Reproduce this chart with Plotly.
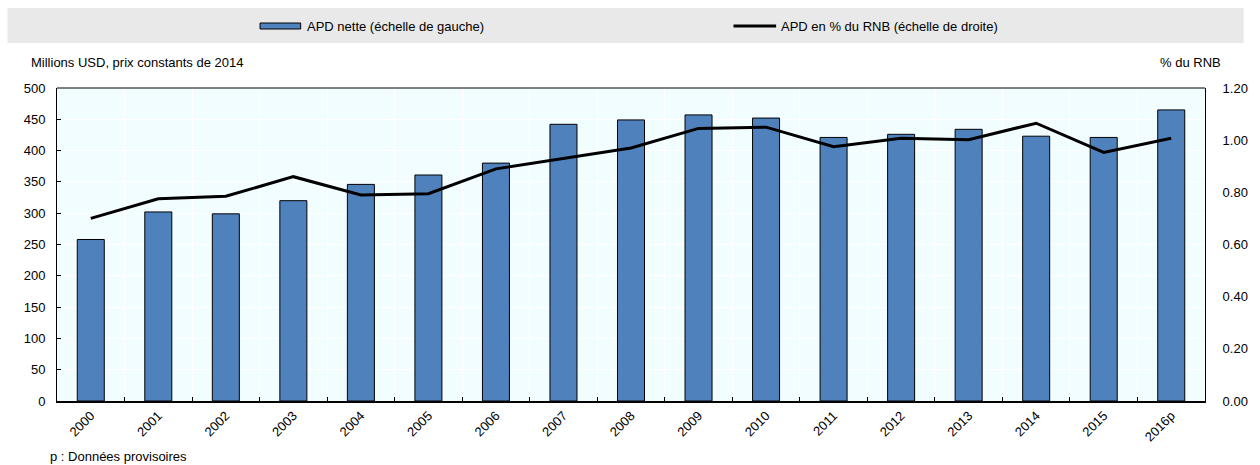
import plotly.graph_objects as go

years = ["2000", "2001", "2002", "2003", "2004", "2005", "2006", "2007", "2008",
         "2009", "2010", "2011", "2012", "2013", "2014", "2015", "2016p"]
apd_nette = [258, 302, 299, 320, 346, 361, 380, 442, 449, 457, 452, 421, 426, 434, 423, 421, 465]
apd_pct_rnb = [0.70, 0.775, 0.785, 0.86, 0.79, 0.795, 0.89, 0.93, 0.97, 1.045, 1.05, 0.975, 1.007, 1.002, 1.065, 0.953, 1.007]

W, H = 1260, 465
L, R, T, B = 57, 1216, 88, 401
FONT = "Liberation Sans Narrow, Arial Narrow, Liberation Sans, Arial, sans-serif"

def px(x):
    return (x - L) / (R - L)

def py(y):
    return (B - y) / (B - T)

fig = go.Figure()
fig.add_trace(go.Bar(
    x=years, y=apd_nette, name="APD nette (échelle de gauche)",
    marker=dict(color="#4F81BD", line=dict(color="black", width=1)),
    width=0.4, yaxis="y", showlegend=False,
))
fig.add_trace(go.Scatter(
    x=years, y=apd_pct_rnb, name="APD en % du RNB (échelle de droite)",
    mode="lines", line=dict(color="black", width=3), yaxis="y2", showlegend=False,
))

shapes = [
    # legend band
    dict(type="rect", xref="paper", yref="paper", x0=px(7), x1=px(1255), y0=py(43), y1=py(8),
         fillcolor="#E9E9E9", line=dict(width=0), layer="below"),
    # bar swatch
    dict(type="rect", xref="paper", yref="paper", x0=px(262), x1=px(303), y0=py(29), y1=py(23),
         fillcolor="#4F81BD", line=dict(color="black", width=1)),
    # line swatch
    dict(type="line", xref="paper", yref="paper", x0=px(740), x1=px(783), y0=py(26), y1=py(26),
         line=dict(color="black", width=3)),
]

annotations = [
    dict(text="APD nette (échelle de gauche)", x=px(307), y=py(26), xref="paper", yref="paper",
         xanchor="left", yanchor="middle", showarrow=False, font=dict(size=13, family=FONT, color="black")),
    dict(text="APD en % du RNB (échelle de droite)", x=px(786), y=py(26), xref="paper", yref="paper",
         xanchor="left", yanchor="middle", showarrow=False, font=dict(size=13, family=FONT, color="black")),
    dict(text="Millions USD, prix constants de 2014", x=px(29), y=py(63), xref="paper", yref="paper",
         xanchor="left", yanchor="middle", showarrow=False, font=dict(size=13, family=FONT, color="black")),
    dict(text="% du RNB", x=px(1234), y=py(63), xref="paper", yref="paper",
         xanchor="right", yanchor="middle", showarrow=False, font=dict(size=13, family=FONT, color="black")),
    dict(text="p : Données provisoires", x=px(48), y=py(456), xref="paper", yref="paper",
         xanchor="left", yanchor="middle", showarrow=False, font=dict(size=13, family=FONT, color="black")),
]

fig.update_layout(
    width=W, height=H,
    margin=dict(l=L, r=W - R, t=T, b=H - B, pad=0),
    paper_bgcolor="white",
    plot_bgcolor="#F2FDFF",
    font=dict(family=FONT, size=13, color="black"),
    bargap=0.6,
    shapes=shapes,
    annotations=annotations,
    xaxis=dict(
        type="category", tickangle=-45, tickson="boundaries", ticks="inside", ticklen=4,
        tickcolor="black", showgrid=True, gridcolor="white", gridwidth=1,
        showline=True, linecolor="black", linewidth=2, mirror=False,
        tickfont=dict(size=13, family=FONT), fixedrange=True,
    ),
    yaxis=dict(
        range=[0, 500], dtick=50, tick0=0, ticks="inside", ticklen=4, tickcolor="black",
        showgrid=True, gridcolor="white", gridwidth=1, zeroline=False,
        showline=True, linecolor="black", linewidth=1, mirror=False,
        tickfont=dict(size=13, family=FONT), ticklabelstandoff=8,
    ),
    yaxis2=dict(
        range=[0, 1.2], dtick=0.2, tick0=0, tickformat=".2f", overlaying="y", side="right",
        ticks="", showgrid=False, zeroline=False,
        showline=True, linecolor="black", linewidth=1,
        tickfont=dict(size=13, family=FONT), ticklabelstandoff=14,
    ),
)

# top border of plot area
fig.add_shape(type="line", xref="paper", yref="paper", x0=0, x1=1, y0=1, y1=1,
              line=dict(color="black", width=1))

fig.write_html("out.html")
